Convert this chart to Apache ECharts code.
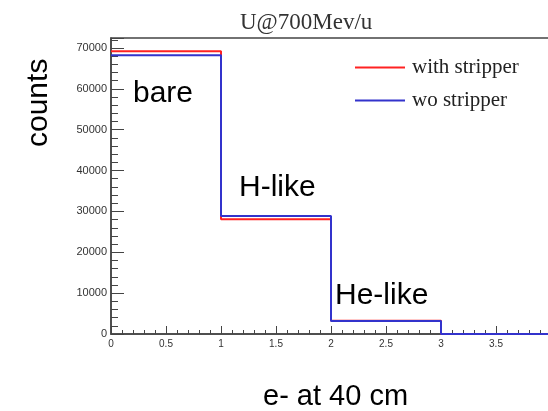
<!DOCTYPE html>
<html>
<head>
<meta charset="utf-8">
<script src="https://cdn.jsdelivr.net/npm/echarts@6/dist/echarts.min.js"></script>
<style>
html,body{margin:0;padding:0;background:#fff;}
#chart{width:548px;height:411px;}
</style>
</head>
<body>
<div id="chart"></div>
<script>
// Histogram bin edges (x) and bin contents
const binEdges = [0, 1, 2, 3, 4];
const withStripper = [69200, 28100, 3250, 0];
const woStripper = [68200, 28900, 3200, 0];
const seriesNames = ['with stripper', 'wo stripper'];
const titleText = 'U@700Mev/u';
const yTitle = 'counts';
const xTitle = 'e- at 40 cm';
const annotations = ['bare', 'H-like', 'He-like'];

function toSteps(vals) {
  return binEdges.map((e, i) => [e, vals[Math.min(i, vals.length - 1)]]);
}

const chart = echarts.init(document.getElementById('chart'), null, {renderer: 'canvas'});
const axisCol = '#444';
chart.setOption({
  animation: false,
  backgroundColor: '#fff',
  title: {
    text: titleText,
    left: 235,
    top: 6,
    textStyle: {fontFamily: 'Liberation Serif', fontSize: 23, fontWeight: 'normal', color: '#333'}
  },
  legend: {
    orient: 'vertical',
    left: 350,
    top: 52,
    itemWidth: 50,
    itemHeight: 2,
    itemGap: 12,
    icon: 'rect',
    data: seriesNames,
    textStyle: {fontFamily: 'Liberation Serif', fontSize: 21, color: '#222', padding: [0, 0, 0, 2]}
  },
  grid: {
    left: 111, right: -3, top: 38, bottom: 77,
    outerBoundsMode: 'none',
    containLabel: false,
    show: true, borderColor: axisCol, borderWidth: 1.5, backgroundColor: 'transparent'
  },
  xAxis: {
    type: 'value', min: 0, max: 4, interval: 0.5,
    axisLine: {show: true, lineStyle: {color: axisCol, width: 1.5}},
    axisTick: {show: true, inside: true, length: 8, lineStyle: {color: axisCol, width: 1}},
    minorTick: {show: true, splitNumber: 5, length: 4, lineStyle: {color: axisCol, width: 1}},
    splitLine: {show: false},
    axisLabel: {fontFamily: 'Liberation Sans', fontSize: 10, color: '#333', margin: 5}
  },
  yAxis: {
    type: 'value', min: 0, max: 72450, interval: 10000,
    axisLine: {show: true, lineStyle: {color: axisCol, width: 1.5}},
    axisTick: {show: true, inside: true, length: 13, lineStyle: {color: axisCol, width: 1}},
    minorTick: {show: true, splitNumber: 5, length: 7, lineStyle: {color: axisCol, width: 1}},
    splitLine: {show: false},
    axisLabel: {
      fontFamily: 'Liberation Sans', fontSize: 11, color: '#333', margin: 4,
      formatter: v => (v % 10000 === 0 ? String(v) : '')
    }
  },
  series: [
    {
      name: seriesNames[0], type: 'line', step: 'end', showSymbol: false, symbol: 'none',
      data: toSteps(withStripper), itemStyle: {color: '#f22'},
      lineStyle: {color: '#f22', width: 2}, z: 2
    },
    {
      name: seriesNames[1], type: 'line', step: 'end', showSymbol: false, symbol: 'none',
      data: toSteps(woStripper), itemStyle: {color: '#33c'},
      lineStyle: {color: '#33c', width: 2}, z: 3
    }
  ],
  graphic: [
    {type: 'text', left: 133, top: 79, style: {text: annotations[0], font: '30px "Liberation Sans"', fill: '#000'}},
    {type: 'text', left: 239, top: 173, style: {text: annotations[1], font: '30px "Liberation Sans"', fill: '#000'}},
    {type: 'text', left: 335, top: 281, style: {text: annotations[2], font: '30px "Liberation Sans"', fill: '#000'}},
    {type: 'text', left: 263, top: 382, style: {text: xTitle, font: '29px "Liberation Sans"', fill: '#000'}},
    {type: 'text', x: 24, y: 147, rotation: Math.PI / 2, style: {text: yTitle, font: '30px "Liberation Sans"', fill: '#000', textVerticalAlign: 'top'}}
  ]
});
</script>
</body>
</html>
